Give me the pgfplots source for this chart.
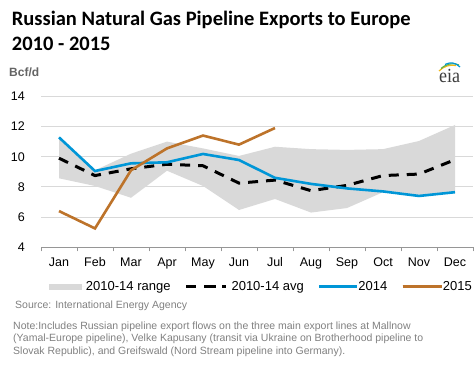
\documentclass[border=0pt]{standalone}
\usepackage{pgfplots}
\pgfplotsset{compat=1.18}
\usepackage{fontspec}
\setmainfont{Liberation Sans}
\newfontfamily\titlefont{Carlito}
\newfontfamily\logofont{Liberation Serif}
\definecolor{blue14}{RGB}{0,150,215}
\definecolor{brown15}{RGB}{189,115,42}
\definecolor{rangegray}{RGB}{217,217,217}
\definecolor{gridgray}{RGB}{217,217,217}
\definecolor{axisgray}{RGB}{150,150,150}
\definecolor{notegray}{RGB}{128,128,128}
\definecolor{unitgray}{RGB}{100,100,100}
\definecolor{logogray}{RGB}{60,60,60}
\definecolor{logoyellow}{RGB}{242,184,26}
\definecolor{logogreen}{RGB}{93,177,76}
\begin{document}
\begin{tikzpicture}
\path[use as bounding box] (0bp,0bp) rectangle (474bp,368bp);
% title
\node[anchor=base west, inner sep=0pt] at (11.7bp,342bp) {\fontsize{20.5bp}{25bp}\selectfont\titlefont\bfseries Russian Natural Gas Pipeline Exports to Europe};
\node[anchor=base west, inner sep=0pt] at (11.7bp,317bp) {\fontsize{20.5bp}{25bp}\selectfont\titlefont\bfseries 2010 - 2015};
\node[anchor=west, inner sep=0pt, text=unitgray] at (9bp,295.7bp) {\fontsize{12bp}{14bp}\selectfont\bfseries Bcf/d};
% logo
\node[anchor=base, inner sep=0pt, text=logogray, xscale=0.9] at (449.5bp,285bp) {\fontsize{20bp}{24bp}\selectfont\logofont eia};
\draw[logoyellow, line width=1.2bp] (439bp,297bp) .. controls (444bp,302bp) and (450bp,303.5bp) .. (456bp,302.5bp);
\draw[logogreen, line width=1.2bp] (441bp,299.5bp) .. controls (447bp,304.5bp) and (453bp,305.5bp) .. (459bp,303bp);
\draw[blue14, line width=1.2bp] (445bp,303.5bp) .. controls (450bp,306bp) and (455bp,306bp) .. (460bp,301bp);
\begin{axis}[
  at={(41bp,120.7bp)}, anchor=south west,
  scale only axis, width=432bp, height=151bp,
  xmin=0.5, xmax=12.5, ymin=4, ymax=14,
  axis x line*=bottom, axis y line*=left,
  x axis line style={draw=axisgray, line width=0.8bp, -},
  y axis line style={draw=none},
  ytick={4,6,...,14},
  xtick={1,...,12},
  xticklabels={Jan,Feb,Mar,Apr,May,Jun,Jul,Aug,Sep,Oct,Nov,Dec},
  minor xtick={0.5,1.5,...,12.5},
  major tick length=0pt, minor tick length=4bp,
  tick align=outside,
  minor x tick style={draw=axisgray, line width=0.8bp},
  ytick style={draw=none},
  ymajorgrids, grid style={draw=gridgray, line width=0.8bp},
  tick label style={font=\fontsize{12.5bp}{14bp}\selectfont},
  /pgf/number format/assume math mode=true,
  yticklabel style={anchor=east, inner sep=0pt, xshift=-16bp},
  xticklabel style={anchor=base, inner sep=0pt, yshift=-19.4bp},
  legend columns=4,
  legend style={draw=none, fill=none, inner sep=0pt, outer sep=0pt,
    at={(0.0185,-0.261)}, anchor=west,
    font=\fontsize{13bp}{15bp}\selectfont,
    nodes={inner sep=0pt},
    /tikz/every odd column/.append style={column sep=0pt},
    /tikz/every even column/.append style={column sep=14bp}},
  legend cell align=left,
]
\addplot[fill=rangegray, draw=none,
  legend image code/.code={\fill[rangegray] (0bp,-3bp) rectangle (33bp,3bp); \path (0bp,0bp) -- (37bp,0bp);}]
  coordinates {(1,11.25) (2,9.1) (3,10.2) (4,11.0) (5,10.55) (6,10.05) (7,10.66) (8,10.5) (9,10.45) (10,10.5) (11,11.04) (12,12.1)
  (12,7.65) (11,7.4) (10,7.65) (9,6.6) (8,6.3) (7,7.2) (6,6.47) (5,8.06) (4,9.07) (3,7.28) (2,8.06) (1,8.57)} -- cycle;
\addlegendentry{2010-14 range}
\addplot[black, line width=3bp, dash pattern=on 10bp off 8bp,
  legend image code/.code={\draw[black, line width=3bp, dash pattern=on 10bp off 10bp] (0bp,0bp) -- (30bp,0bp); \path (0bp,0bp) -- (40bp,0bp);}]
  coordinates {(1,9.9) (2,8.75) (3,9.2) (4,9.5) (5,9.4) (6,8.25) (7,8.45) (8,7.75) (9,8.1) (10,8.75) (11,8.85) (12,9.8)};
\addlegendentry{\hspace{4bp}2010-14 avg}
\addplot[blue14, line width=2.6bp,
  legend image code/.code={\draw[blue14, line width=2.6bp] (0bp,0bp) -- (35bp,0bp); \path (0bp,0bp) -- (38bp,0bp);}]
  coordinates {(1,11.28) (2,9.05) (3,9.56) (4,9.63) (5,10.18) (6,9.78) (7,8.6) (8,8.2) (9,7.9) (10,7.7) (11,7.4) (12,7.65)};
\addlegendentry{2014}
\addplot[brown15, line width=2.6bp,
  legend image code/.code={\draw[brown15, line width=2.6bp] (0bp,0bp) -- (37bp,0bp); \path (0bp,0bp) -- (39bp,0bp);}]
  coordinates {(1,6.4) (2,5.25) (3,9.1) (4,10.55) (5,11.4) (6,10.8) (7,11.9)};
\addlegendentry{2015}
\end{axis}
% source and note
\node[anchor=base west, inner sep=0pt, text=notegray] at (15bp,59bp) {\fontsize{10.5bp}{12.6bp}\selectfont Source: International Energy Agency};
\node[anchor=base west, inner sep=0pt, text=notegray] at (13bp,39bp) {\fontsize{10.5bp}{12.6bp}\selectfont Note:Includes Russian pipeline export flows on the three main export lines at Mallnow};
\node[anchor=base west, inner sep=0pt, text=notegray] at (13bp,26.4bp) {\fontsize{10.5bp}{12.6bp}\selectfont (Yamal-Europe pipeline), Velke Kapusany (transit via Ukraine on Brotherhood pipeline to};
\node[anchor=base west, inner sep=0pt, text=notegray] at (13bp,13.8bp) {\fontsize{10.5bp}{12.6bp}\selectfont Slovak Republic), and Greifswald (Nord Stream pipeline into Germany).};
\end{tikzpicture}
\end{document}
